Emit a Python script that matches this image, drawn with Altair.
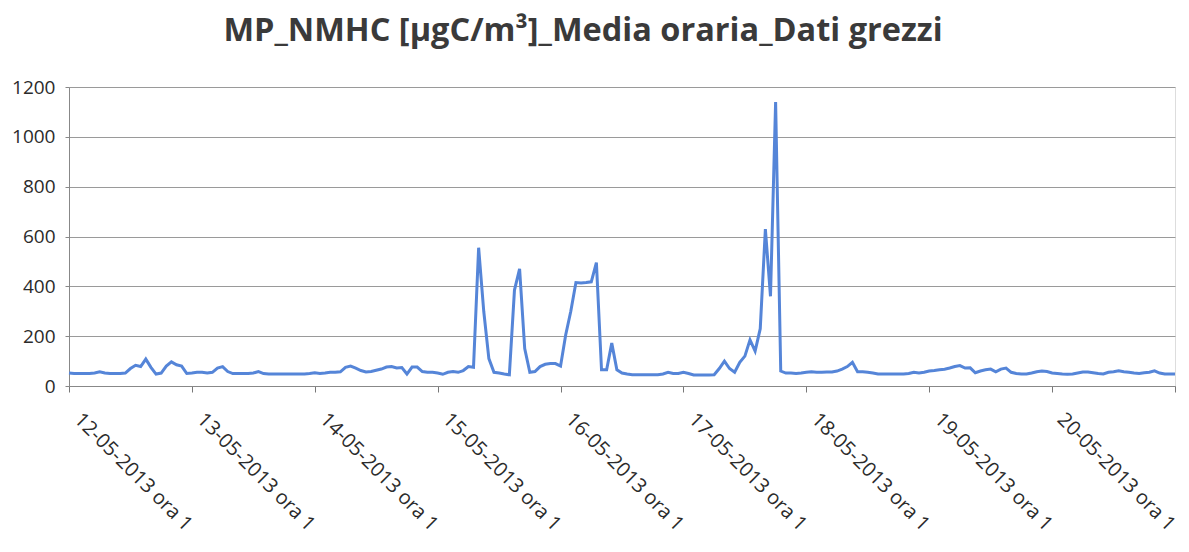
import json
import altair as alt
import pandas as pd

# Tick labels (one per day, every 24 hourly points)
day_labels = [
    "12-05-2013 ora 1", "13-05-2013 ora 1", "14-05-2013 ora 1",
    "15-05-2013 ora 1", "16-05-2013 ora 1", "17-05-2013 ora 1",
    "18-05-2013 ora 1", "19-05-2013 ora 1", "20-05-2013 ora 1",
]

# Hourly NMHC values [µgC/m³]
nmhc_day12 = [52, 50, 50, 50, 50, 52, 57, 52, 50, 50, 50, 52,
              70, 83, 78, 108, 75, 48, 52, 80, 97, 85, 80, 50]
nmhc_day13 = [52, 55, 55, 52, 55, 72, 78, 58, 50, 50, 50, 50,
              52, 58, 50, 48, 48, 48, 48, 48, 48, 48, 48, 50]
nmhc_day14 = [53, 50, 52, 55, 55, 57, 75, 80, 72, 62, 56, 58,
              63, 68, 76, 78, 72, 74, 48, 76, 76, 58, 55, 55]
nmhc_day15 = [52, 47, 55, 58, 55, 62, 78, 75, 555, 300, 110, 55,
              52, 48, 45, 385, 470, 150, 55, 58, 78, 87, 90, 90]
nmhc_day16 = [80, 205, 300, 415, 413, 415, 418, 495, 65, 65, 172, 65,
              52, 48, 45, 45, 45, 45, 45, 45, 48, 55, 50, 50]
nmhc_day17 = [55, 50, 44, 44, 44, 44, 45, 70, 100, 70, 55, 95,
              120, 185, 140, 230, 630, 360, 1140, 60, 52, 52, 50, 52]
nmhc_day18 = [55, 57, 55, 55, 56, 56, 60, 68, 78, 95, 57, 57,
              55, 52, 48, 48, 48, 48, 48, 48, 50, 55, 52, 55]
nmhc_day19 = [60, 62, 65, 67, 72, 78, 82, 72, 73, 53, 60, 65,
              68, 57, 68, 72, 55, 50, 48, 48, 52, 57, 60, 58]
nmhc_day20 = [52, 50, 48, 47, 48, 52, 56, 56, 53, 50, 48, 55,
              57, 61, 57, 55, 52, 50, 53, 55, 61, 52, 48, 48]
nmhc_day21 = [48]

values = (nmhc_day12 + nmhc_day13 + nmhc_day14 + nmhc_day15 + nmhc_day16
          + nmhc_day17 + nmhc_day18 + nmhc_day19 + nmhc_day20 + nmhc_day21)
hours = list(range(len(values)))
last = len(values) - 1

df = pd.DataFrame({"ora": hours, "NMHC": values})

label_expr = (
    f"datum.value < {len(day_labels) * 24} ? "
    f"{json.dumps(day_labels)}[floor(datum.value / 24)] : ''"
)

chart = alt.Chart(df).mark_line(color="#5585d8", strokeWidth=3).encode(
    x=alt.X(
        "ora:Q",
        scale=alt.Scale(domain=[0, last], nice=False, zero=False),
        axis=alt.Axis(
            title=None,
            values=list(range(0, last + 1, 24)),
            labelExpr=label_expr,
            grid=False,
            ticks=True,
            tickSize=6,
            tickColor="#777777",
            domainColor="#888888",
            labelAngle=45,
            labelAlign="left",
            labelBaseline="top",
            labelPadding=17,
            labelOffset=15,
            labelFont="Open Sans",
            labelFontSize=20,
            labelColor="#2b2b2b",
            labelOverlap=False,
            labelBound=False,
            labelFlush=False,
        ),
    ),
    y=alt.Y(
        "NMHC:Q",
        scale=alt.Scale(domain=[0, 1200], nice=False),
        axis=alt.Axis(
            title=None,
            values=[0, 200, 400, 600, 800, 1000, 1200],
            format="d",
            grid=True,
            gridColor="#9a9a9a",
            gridWidth=1,
            domainColor="#888888",
            tickColor="#888888",
            tickSize=4,
            labelPadding=10,
            labelFont="Open Sans",
            labelFontSize=19,
            labelColor="#2b2b2b",
        ),
    ),
).properties(
    width=1106,
    height=299,
    padding={"left": 61, "top": 79, "right": 6, "bottom": 157},
    autosize=alt.AutoSizeParams(type="none"),
    title=alt.TitleParams(
        text="MP_NMHC [µgC/m³]_Media oraria_Dati grezzi",
        font="Open Sans",
        fontSize=32.5,
        fontWeight="bold",
        color="#3a3a3a",
        anchor="middle",
        dx=-39,
        baseline="alphabetic",
        offset=5,
    ),
).configure_view(stroke=None).configure(background="white")

chart.save("out.html", embed_options={"renderer": "svg", "actions": False})
